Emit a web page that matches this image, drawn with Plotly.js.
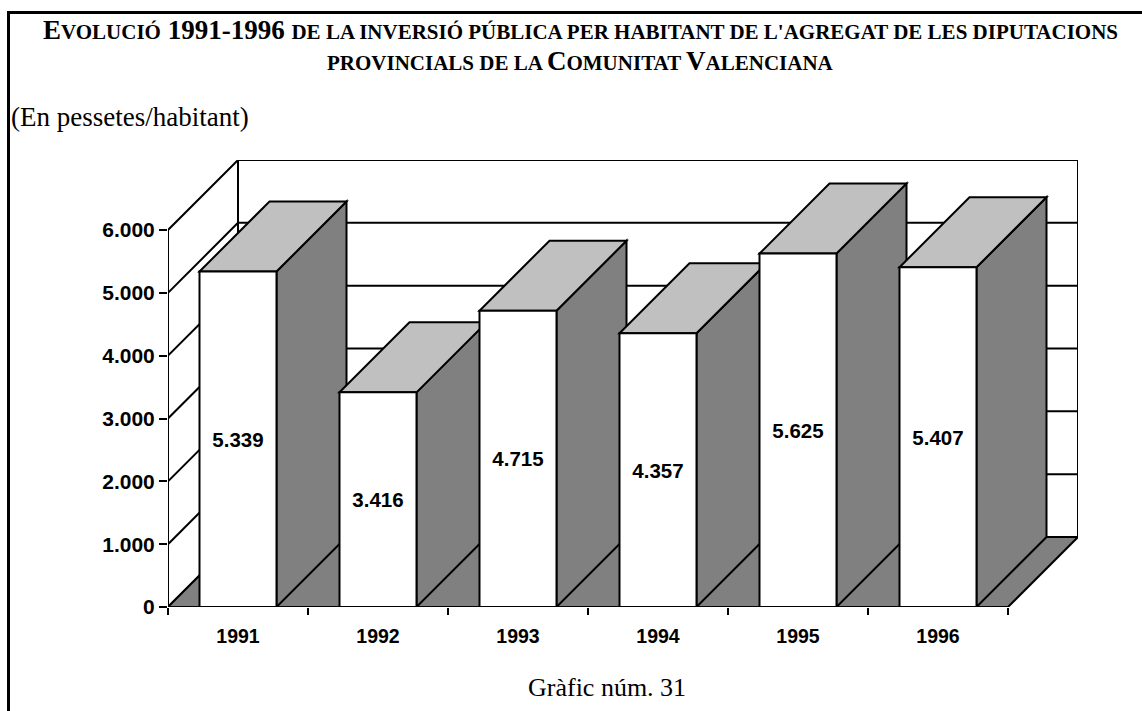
<!DOCTYPE html>
<html>
<head>
<meta charset="utf-8">
<script src="https://cdn.plot.ly/plotly-3.0.1.min.js"></script>
<style>
  html, body { margin: 0; padding: 0; background: #fff; }
  #wrap  { position: relative; width: 1142px; height: 711px; }
  #chart { position: absolute; left: 0; top: 0; width: 1142px; height: 711px; }
  /* page frame: thick left and top rule */
  #frame { position: absolute; left: 7px; top: 11px; right: 0; bottom: 0;
           border-left: 3px solid #000; border-top: 3px solid #000; pointer-events: none; }
</style>
</head>
<body>
<div id="wrap"><div id="chart"></div><div id="frame"></div></div>
<script>
// Inversió pública per habitant, diputacions provincials (pessetes/habitant)
const years  = ['1991', '1992', '1993', '1994', '1995', '1996'];
const values = [5339, 3416, 4715, 4357, 5625, 5407];
const yTicks = [0, 1000, 2000, 3000, 4000, 5000, 6000];

// fake 3D geometry, in axis units
const DX = 0.5;      // depth shift along x
const DY = 1114;     // depth shift along y
const BW = 0.275;    // half width of a bar
const Y_TOP = yTicks[yTicks.length - 1];
const X_LO = -0.5, X_HI = years.length - 0.5;

const fmt = v => String(v).replace(/\B(?=(\d{3})+(?!\d))/g, '.');

const LINE = { color: '#000', width: 2 };
function poly(pts, fill, layer) {
  const path = 'M' + pts.map(p => p[0] + ',' + p[1]).join(' L') + ' Z';
  return { type: 'path', xref: 'x', yref: 'y', path, fillcolor: fill, line: LINE, layer: layer || 'below' };
}
function seg(x0, y0, x1, y1, layer) {
  return { type: 'line', xref: 'x', yref: 'y', x0, y0, x1, y1, line: LINE, layer: layer || 'below' };
}

const shapes = [];
// back wall + gridlines
shapes.push(poly([[X_LO + DX, DY], [X_HI + DX, DY], [X_HI + DX, Y_TOP + DY], [X_LO + DX, Y_TOP + DY]], '#fff'));
yTicks.slice(1, -1).forEach(v => shapes.push(seg(X_LO + DX, v + DY, X_HI + DX, v + DY)));
// left wall + gridlines
shapes.push(poly([[X_LO, 0], [X_LO + DX, DY], [X_LO + DX, Y_TOP + DY], [X_LO, Y_TOP]], '#fff'));
yTicks.slice(1, -1).forEach(v => shapes.push(seg(X_LO, v, X_LO + DX, v + DY)));
// floor
shapes.push(poly([[X_LO, 0], [X_HI, 0], [X_HI + DX, DY], [X_LO + DX, DY]], '#808080'));
// side and top faces of each bar, left to right (front faces are the bar trace)
values.forEach((v, i) => {
  const r = i + BW, l = i - BW;
  shapes.push(poly([[r, 0], [r + DX, DY], [r + DX, v + DY], [r, v]], '#808080'));
  shapes.push(poly([[l, v], [r, v], [r + DX, v + DY], [l + DX, v + DY]], '#c0c0c0'));
});
// front axis lines
shapes.push(seg(X_LO, 0, X_LO, Y_TOP, 'above'));
shapes.push(seg(X_LO, 0, X_HI, 0, 'above'));

// pixel -> paper helpers (plot area: 168..1078 x 160..607)
const PL = 168, PR = 64, PT = 160, PB = 104, W = 1142, H = 711;
const px = x => (x - PL) / (W - PL - PR);
const py = y => (H - PB - y) / (H - PT - PB);

const SERIF = 'Liberation Serif, Times New Roman, serif';
const big = s => '<span style="font-size:27px">' + s + '</span>';
const sm  = s => '<span style="font-size:21px">' + s + '</span>';

const trace = {
  type: 'bar',
  x: years.map((_, i) => i),
  y: values,
  width: 0.55,
  marker: { color: '#fff', line: LINE },
  text: values.map(fmt),
  textposition: 'inside',
  insidetextanchor: 'middle',
  textangle: 0,
  constraintext: 'none',
  textfont: { family: 'Arial, Liberation Sans, sans-serif', size: 20.5, color: '#000', weight: 'bold' },
  hoverinfo: 'skip',
  cliponaxis: false
};

const layout = {
  width: W, height: H,
  margin: { l: PL, r: PR, t: PT, b: PB },
  paper_bgcolor: 'rgba(0,0,0,0)',
  plot_bgcolor: 'rgba(0,0,0,0)',
  showlegend: false,
  font: { family: 'Arial, Liberation Sans, sans-serif', color: '#000' },
  xaxis: {
    range: [X_LO, X_HI + DX], fixedrange: true,
    tickvals: years.map((_, i) => i), ticktext: years, ticks: '',
    ticklabelstandoff: 15,
    tickfont: { size: 19.5, weight: 'bold' },
    showgrid: false, zeroline: false, showline: false,
    minor: { tickvals: years.map((_, i) => i - 0.5).concat([X_HI]), ticks: 'outside',
             ticklen: 7, tickwidth: 2, tickcolor: '#000', showgrid: false }
  },
  yaxis: {
    range: [0, Y_TOP + DY], fixedrange: true,
    tickvals: yTicks, ticktext: yTicks.map(fmt),
    ticks: 'outside', ticklen: 8, tickwidth: 2, tickcolor: '#000',
    tickfont: { size: 21, weight: 'bold' },
    showgrid: false, zeroline: false, showline: false
  },
  shapes,
  annotations: [
    { xref: 'paper', yref: 'paper', x: px(580), y: py(30), xanchor: 'center', yanchor: 'middle', showarrow: false,
      font: { family: SERIF, size: 21, weight: 'bold' },
      text: big('E') + sm('VOLUCIÓ') + big(' 1991-1996 ') + sm("DE LA INVERSIÓ PÚBLICA PER HABITANT DE L'AGREGAT DE LES DIPUTACIONS") },
    { xref: 'paper', yref: 'paper', x: px(580), y: py(61), xanchor: 'center', yanchor: 'middle', showarrow: false,
      font: { family: SERIF, size: 21, weight: 'bold' },
      text: sm('PROVINCIALS DE LA ') + big('C') + sm('OMUNITAT ') + big('V') + sm('ALENCIANA') },
    { xref: 'paper', yref: 'paper', x: px(9), y: py(117), xanchor: 'left', yanchor: 'middle', showarrow: false,
      font: { family: SERIF, size: 27 }, text: '(En pessetes/habitant)' },
    { xref: 'paper', yref: 'paper', x: px(607), y: py(687), xanchor: 'center', yanchor: 'middle', showarrow: false,
      font: { family: SERIF, size: 26 }, text: 'Gràfic núm. 31' }
  ]
};

Plotly.newPlot('chart', [trace], layout, { displayModeBar: false, staticPlot: true });
</script>
</body>
</html>
